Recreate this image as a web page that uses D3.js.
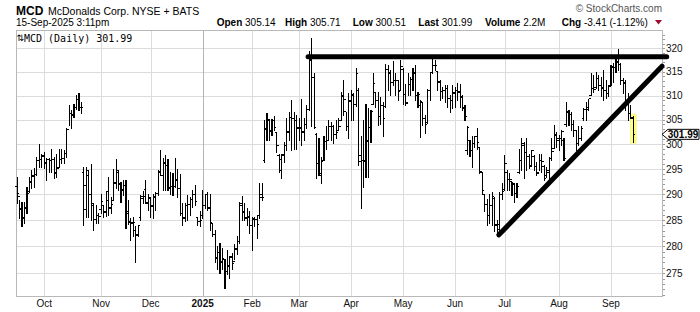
<!DOCTYPE html>
<html>
<head>
<meta charset="utf-8">
<script src="https://cdn.jsdelivr.net/npm/d3@7"></script>
<style>
  body { margin: 0; background: #fff; }
  svg { display: block; }
</style>
</head>
<body>
<div id="chart"></div>
<script>
// daily bars, 16-Sep-2024 .. 15-Sep-2025 (one row = 10 sessions)
const opens = [
  291.5, 289.5, 287.0, 285.5, 287.5, 290.5, 292.5, 293.5, 294.0, 296.8,
  297.0, 297.6, 296.3, 297.0, 296.8, 297.0, 294.3, 295.3, 297.0, 297.2,
  298.2, 303.0, 306.3, 306.0, 307.5, 309.2, 307.6, 294.4, 287.0, 293.8,
  289.9, 287.9, 285.1, 286.0, 287.0, 287.9, 286.6, 288.9, 287.4, 288.9,
  292.3, 294.4, 291.9, 290.9, 291.7, 286.6, 284.7, 284.3, 283.0, 282.3,
  285.5, 289.2, 290.9, 288.3, 289.2, 287.8, 289.4, 290.2, 294.4, 293.8,
  296.2, 295.8, 291.3, 291.6, 291.6, 292.9, 291.2, 286.2, 285.5, 287.9,
  288.1, 289.0, 289.9, 285.5, 284.7, 286.0, 287.8, 289.9, 287.4, 284.3,
  282.3, 277.9, 278.9, 277.2, 277.6, 275.3, 276.4, 277.9, 277.2, 279.4,
  280.9, 287.9, 286.6, 285.5, 285.7, 283.9, 285.3, 285.1, 286.0, 289.9,
  296.8, 302.9, 304.9, 302.7, 304.9, 302.3, 297.8, 294.8, 297.8, 299.8,
  302.5, 305.5, 305.3, 304.9, 303.3, 303.3, 302.5, 304.1, 307.0, 317.5,
  313.7, 301.9, 296.2, 293.8, 296.8, 300.6, 300.8, 303.5, 303.5, 302.0,
  302.8, 304.9, 309.8, 306.6, 303.5, 308.8, 310.1, 308.2, 311.1, 297.8,
  296.8, 296.8, 300.8, 303.3, 308.2, 310.6, 309.0, 305.7, 308.0, 307.8,
  315.4, 314.7, 312.8, 313.2, 313.2, 311.1, 315.5, 310.3, 308.6, 312.4,
  313.4, 314.7, 310.1, 308.0, 308.6, 305.3, 304.4, 311.1, 314.9, 316.4,
  315.0, 312.8, 310.9, 311.1, 311.5, 309.4, 309.0, 310.5, 311.1, 310.6,
  309.6, 307.4, 298.8, 300.8, 298.8, 300.2, 301.5, 299.4, 294.4, 289.9,
  288.1, 286.0, 287.9, 289.2, 283.9, 283.2, 289.9, 290.9, 294.4, 292.9,
  292.5, 291.9, 290.2, 294.4, 296.8, 299.8, 298.4, 297.6, 295.8, 297.6,
  295.6, 294.4, 296.8, 295.6, 293.7, 294.4, 297.2, 299.2, 301.9, 300.8,
  301.2, 300.8, 303.9, 306.6, 306.1, 303.9, 302.8, 300.2, 301.2, 305.3,
  307.0, 307.4, 310.1, 311.5, 311.6, 313.6, 312.2, 311.6, 311.1, 310.5,
  312.2, 316.0, 316.0, 317.1, 316.6, 313.2, 312.6, 309.0, 306.3, 305.14
];
const highs = [
  293.5, 288.9, 288.6, 288.6, 291.5, 293.5, 294.8, 295.2, 297.5, 300.0,
  298.1, 298.5, 297.2, 297.2, 299.0, 297.5, 298.1, 299.0, 299.0, 298.8,
  303.2, 308.1, 307.0, 308.3, 310.1, 310.6, 308.7, 295.5, 295.5, 294.8,
  296.0, 288.3, 287.9, 286.4, 290.1, 287.8, 290.7, 293.5, 289.5, 295.0,
  297.0, 294.8, 292.5, 292.9, 292.9, 288.9, 285.4, 285.7, 283.8, 284.1,
  289.9, 290.7, 292.9, 290.1, 289.5, 290.1, 290.5, 294.8, 298.8, 297.2,
  297.8, 297.0, 294.5, 294.2, 297.3, 295.0, 294.0, 288.3, 288.3, 289.9,
  289.5, 290.9, 291.9, 285.7, 286.7, 290.9, 290.1, 290.5, 290.1, 284.5,
  283.2, 280.0, 280.6, 279.7, 277.6, 279.4, 278.2, 278.8, 280.4, 282.0,
  288.6, 289.7, 288.3, 287.3, 286.7, 285.7, 285.7, 286.0, 292.2, 292.2,
  304.9, 306.3, 305.1, 305.1, 305.7, 302.2, 298.1, 298.1, 300.5, 305.3,
  306.6, 309.1, 306.6, 305.9, 305.3, 309.3, 305.3, 308.0, 319.5, 322.2,
  314.7, 302.2, 301.2, 297.5, 301.7, 303.6, 304.9, 304.6, 303.9, 304.9,
  305.3, 310.8, 313.2, 306.6, 310.5, 311.1, 310.5, 315.8, 311.5, 301.7,
  304.9, 308.2, 307.4, 307.0, 314.7, 310.8, 310.8, 309.7, 308.7, 316.6,
  316.4, 315.4, 317.3, 314.7, 313.2, 317.5, 315.7, 312.5, 314.7, 313.9,
  315.7, 316.4, 310.8, 309.0, 308.7, 305.9, 311.3, 315.0, 318.4, 317.5,
  315.0, 313.2, 311.8, 312.2, 312.2, 310.1, 312.2, 311.8, 312.7, 312.5,
  310.1, 308.0, 303.7, 300.8, 301.7, 301.7, 303.2, 299.5, 294.5, 290.1,
  289.2, 290.1, 290.5, 289.5, 285.1, 290.5, 292.2, 297.8, 294.8, 294.2,
  292.5, 292.2, 292.2, 299.1, 301.2, 300.5, 301.2, 298.1, 298.8, 297.8,
  296.5, 298.1, 298.1, 295.8, 295.5, 297.5, 301.2, 303.9, 302.5, 301.8,
  302.8, 301.2, 308.7, 307.0, 306.6, 304.9, 302.8, 303.6, 303.6, 307.3,
  308.7, 309.3, 314.7, 314.3, 315.0, 314.3, 313.9, 315.4, 313.2, 312.2,
  316.4, 316.8, 318.6, 319.8, 316.8, 313.7, 313.2, 310.5, 308.0, 305.71
];
const lows = [
  288.3, 285.4, 283.8, 284.5, 286.4, 290.5, 291.2, 291.5, 293.9, 295.5,
  295.5, 295.3, 292.9, 294.5, 294.5, 293.2, 293.5, 295.5, 296.2, 296.2,
  297.5, 303.9, 303.2, 305.5, 307.1, 307.0, 306.3, 284.1, 285.7, 285.7,
  285.1, 283.2, 284.5, 284.5, 286.4, 285.7, 285.9, 286.0, 286.4, 288.9,
  291.2, 290.9, 288.6, 289.9, 283.5, 284.3, 281.3, 282.0, 277.1, 282.0,
  285.1, 288.3, 288.3, 287.0, 285.7, 285.4, 287.0, 289.9, 293.8, 290.9,
  290.9, 290.9, 290.1, 289.9, 291.5, 289.5, 286.0, 284.0, 284.8, 285.1,
  286.0, 287.6, 287.9, 284.1, 283.8, 285.4, 287.4, 287.0, 283.2, 282.0,
  277.0, 275.7, 275.1, 275.7, 272.2, 274.8, 274.1, 275.8, 277.6, 278.5,
  280.7, 285.1, 285.1, 284.1, 282.5, 279.4, 283.8, 281.6, 285.4, 288.9,
  296.5, 300.8, 300.8, 301.8, 302.9, 298.5, 294.5, 293.2, 296.5, 298.8,
  300.8, 298.8, 299.1, 299.1, 300.8, 299.8, 300.8, 303.3, 307.0, 303.6,
  303.3, 293.2, 293.9, 292.3, 296.8, 299.1, 300.8, 300.8, 300.2, 301.2,
  302.8, 304.9, 305.9, 302.8, 301.2, 304.9, 304.9, 307.8, 295.8, 287.3,
  291.5, 293.5, 293.5, 300.5, 308.3, 307.6, 303.9, 304.2, 301.7, 307.6,
  311.1, 310.1, 312.2, 310.1, 309.0, 311.1, 308.2, 308.0, 310.1, 310.1,
  311.1, 309.0, 307.6, 301.5, 303.9, 302.2, 304.3, 309.0, 314.7, 315.4,
  311.1, 309.0, 309.4, 308.7, 307.6, 306.6, 307.3, 307.6, 309.0, 307.6,
  307.0, 304.9, 298.0, 297.6, 295.5, 299.5, 299.1, 294.3, 290.1, 286.7,
  284.1, 284.5, 284.0, 282.9, 282.2, 282.2, 289.2, 290.9, 290.9, 290.9,
  289.9, 288.6, 289.5, 294.2, 294.8, 293.2, 294.8, 295.2, 295.6, 294.8,
  293.8, 294.8, 294.4, 292.9, 293.5, 292.9, 296.8, 299.2, 299.5, 298.8,
  299.8, 296.8, 303.6, 303.9, 302.8, 301.7, 298.8, 299.8, 300.8, 304.9,
  304.9, 307.0, 310.1, 310.7, 311.6, 311.1, 309.8, 309.0, 309.4, 309.8,
  312.2, 312.8, 315.0, 315.4, 312.5, 310.5, 307.0, 304.9, 305.3, 300.51
];
const closes = [
  290.2, 287.2, 285.4, 287.3, 290.2, 292.4, 293.7, 293.9, 296.8, 297.0,
  297.8, 296.2, 297.0, 296.8, 297.0, 294.2, 295.2, 297.0, 297.2, 298.1,
  302.9, 306.3, 305.9, 307.5, 309.2, 307.6, 307.5, 291.7, 294.8, 290.0,
  288.3, 285.1, 286.0, 285.7, 288.6, 286.4, 290.5, 287.3, 288.1, 292.2,
  294.8, 292.1, 290.7, 291.7, 286.2, 284.6, 284.5, 284.5, 282.1, 283.9,
  289.5, 289.6, 288.4, 289.4, 287.6, 289.6, 290.1, 294.6, 293.8, 296.3,
  295.8, 291.2, 291.6, 291.6, 292.7, 291.2, 286.2, 285.4, 287.9, 288.1,
  289.0, 289.9, 288.7, 284.8, 284.9, 287.8, 289.9, 287.3, 284.6, 282.2,
  277.7, 278.9, 277.0, 277.7, 275.3, 276.3, 278.1, 276.8, 279.7, 280.9,
  288.3, 286.5, 285.4, 285.6, 283.9, 285.2, 285.1, 284.1, 289.4, 289.4,
  303.2, 305.1, 302.5, 304.9, 303.4, 299.8, 297.0, 297.9, 299.7, 302.4,
  305.5, 305.3, 304.9, 303.2, 303.2, 302.3, 304.1, 307.0, 317.6, 313.8,
  303.4, 296.2, 294.2, 296.6, 300.6, 300.8, 303.6, 303.6, 302.0, 302.4,
  303.6, 310.1, 309.1, 303.6, 308.9, 310.3, 308.2, 314.7, 296.6, 296.7,
  296.6, 300.6, 303.4, 306.6, 312.5, 309.0, 305.7, 308.0, 305.3, 315.5,
  314.8, 312.8, 313.2, 313.2, 310.9, 316.2, 310.3, 308.4, 312.4, 313.4,
  314.8, 310.1, 310.2, 308.7, 305.3, 304.1, 311.1, 314.8, 316.4, 316.4,
  312.9, 310.9, 311.1, 311.5, 309.4, 309.0, 310.6, 311.1, 310.8, 309.7,
  307.3, 305.6, 303.4, 298.7, 300.1, 301.5, 300.3, 294.5, 290.7, 288.1,
  286.0, 287.9, 289.6, 284.1, 284.1, 289.9, 290.5, 296.2, 292.9, 292.9,
  292.1, 290.1, 291.5, 296.8, 300.1, 298.3, 297.6, 295.5, 298.7, 295.5,
  294.2, 296.8, 296.5, 293.2, 294.8, 297.2, 298.5, 301.8, 301.2, 301.2,
  302.5, 297.2, 306.4, 306.1, 303.9, 302.8, 300.1, 301.2, 303.2, 307.1,
  307.1, 309.3, 311.5, 311.3, 313.5, 312.2, 311.5, 311.1, 310.4, 311.8,
  316.1, 315.9, 317.0, 317.9, 313.2, 312.8, 309.0, 306.3, 305.4, 301.99
];

// x axis: session index where each month starts
const monthLabels = ['Oct', 'Nov', 'Dec', '2025', 'Feb', 'Mar', 'Apr', 'May', 'Jun', 'Jul', 'Aug', 'Sep'];
const monthStarts = [11, 34, 54, 75, 95, 114, 135, 156, 177, 197, 219, 240];
const priceTicks = [275, 280, 285, 290, 295, 300, 305, 310, 315, 320];

// hand-drawn trend lines [session index, price]
const resistanceLine = [[117.6, 318.2], [262.5, 318.2]];
const supportLine = [[194.7, 282.2], [260.6, 316.2]];

// quote box
const quoteLabels = ['Open', 'High', 'Low', 'Last', 'Volume', 'Chg'];
const quoteValues = ['305.14', '305.71', '300.51', '301.99', '2.2M', '-3.41 (-1.12%)'];

const W = 700, H = 312;
const plot = { left: 16, right: 662, top: 30, bottom: 296 };
const sans = '"Liberation Sans", Arial, sans-serif';

const svg = d3.select('#chart').append('svg')
    .attr('width', W)
    .attr('height', H)
    .attr('font-family', sans);

const x = d3.scaleLinear().domain([-0.44, 260.6]).range([plot.left, plot.right]);
const y = d3.scaleLog().domain([270.8, 324]).range([plot.bottom, plot.top]);
const px = v => Math.round(v) + 0.5;

// grid
svg.append('g')
    .selectAll('line')
    .data(priceTicks)
    .join('line')
    .attr('x1', plot.left)
    .attr('x2', plot.right)
    .attr('y1', d => px(y(d)))
    .attr('y2', d => px(y(d)))
    .attr('stroke', '#dcdcdc');

svg.append('g')
    .selectAll('line')
    .data(monthStarts)
    .join('line')
    .attr('x1', d => px(x(d)))
    .attr('x2', d => px(x(d)))
    .attr('y1', plot.top)
    .attr('y2', plot.bottom)
    .attr('stroke', (d, i) => monthLabels[i] === '2025' ? '#b4b4b4' : '#dcdcdc');

// plot frame
svg.append('rect')
    .attr('x', plot.left + 0.5)
    .attr('y', plot.top + 0.5)
    .attr('width', plot.right - plot.left)
    .attr('height', plot.bottom - plot.top)
    .attr('fill', 'none')
    .attr('stroke', '#b8b8b8');

// month labels
svg.append('g')
    .selectAll('text')
    .data(monthStarts)
    .join('text')
    .attr('x', d => x(d))
    .attr('y', 307)
    .attr('text-anchor', 'middle')
    .attr('font-size', 10)
    .attr('font-weight', (d, i) => monthLabels[i] === '2025' ? 'bold' : 'normal')
    .attr('fill', '#111')
    .text((d, i) => monthLabels[i]);

// right axis
const axisG = svg.append('g');
axisG.selectAll('line.minor')
    .data(d3.range(271, 324))
    .join('line')
    .attr('class', 'minor')
    .attr('x1', plot.right + 1)
    .attr('x2', plot.right + 3)
    .attr('y1', d => px(y(d)))
    .attr('y2', d => px(y(d)))
    .attr('stroke', '#999');
axisG.selectAll('text')
    .data(priceTicks)
    .join('text')
    .attr('x', plot.right + 4)
    .attr('y', d => y(d) + 3.5)
    .attr('font-size', 10)
    .attr('fill', '#111')
    .text(d => d);

// highlight the latest bar
const last = closes.length - 1;
svg.append('rect')
    .attr('x', x(last) - 2.6)
    .attr('y', y(highs[last]) - 2)
    .attr('width', 5.4)
    .attr('height', y(lows[last]) - y(highs[last]) + 3.5)
    .attr('fill', '#ffff80')
    .attr('stroke', '#f4f060')
    .attr('stroke-width', 0.6);

// OHLC bars
const bars = d3.range(closes.length).map(i => ({
    i, o: opens[i], h: highs[i], l: lows[i], c: closes[i]
}));

const barG = svg.append('g')
    .attr('stroke', '#000')
    .attr('shape-rendering', 'crispEdges');

const bar = barG.selectAll('g')
    .data(bars)
    .join('g');

bar.append('line')
    .attr('x1', d => x(d.i))
    .attr('x2', d => x(d.i))
    .attr('y1', d => y(d.h))
    .attr('y2', d => y(d.l) + 1)
    .attr('stroke-width', 1.1);

bar.append('line')
    .attr('x1', d => x(d.i) - 2)
    .attr('x2', d => x(d.i))
    .attr('y1', d => y(d.o))
    .attr('y2', d => y(d.o));

bar.append('line')
    .attr('x1', d => x(d.i))
    .attr('x2', d => x(d.i) + 2)
    .attr('y1', d => y(d.c))
    .attr('y2', d => y(d.c));

// trend lines
const trend = d3.line()
    .x(d => x(d[0]))
    .y(d => y(d[1]));

svg.append('g')
    .selectAll('path')
    .data([resistanceLine, supportLine])
    .join('path')
    .attr('d', trend)
    .attr('fill', 'none')
    .attr('stroke', '#000')
    .attr('stroke-width', 5)
    .attr('stroke-linecap', 'round');

// last price tag
const ty = y(closes[last]);
svg.append('path')
    .attr('d', `M${plot.right},${ty} L${plot.right + 6},${ty - 5} L${699},${ty - 5} L${699},${ty + 5} L${plot.right + 6},${ty + 5} Z`)
    .attr('fill', '#fff')
    .attr('stroke', '#000')
    .attr('stroke-width', 1);
svg.append('text')
    .attr('x', 683)
    .attr('y', ty + 3.6)
    .attr('text-anchor', 'middle')
    .attr('font-size', 10)
    .attr('font-weight', 'bold')
    .text(closes[last].toFixed(2));

// header
svg.append('text')
    .attr('x', 16)
    .attr('y', 14.5)
    .attr('font-size', 12)
    .attr('font-weight', 'bold')
    .text('MCD');
svg.append('text')
    .attr('x', 48)
    .attr('y', 14.5)
    .attr('font-size', 10.5)
    .text('McDonalds Corp. NYSE + BATS');
svg.append('text')
    .attr('x', 662)
    .attr('y', 11.5)
    .attr('text-anchor', 'end')
    .attr('font-size', 10)
    .attr('fill', '#555')
    .text('\u00a9 StockCharts.com');
svg.append('text')
    .attr('x', 16)
    .attr('y', 26)
    .attr('font-size', 10)
    .text('15-Sep-2025 3:11pm');

const quoteX = [216.7, 285, 352.7, 418.3, 485, 561.7];
const quote = svg.append('text')
    .attr('y', 26)
    .attr('font-size', 10);
quoteLabels.forEach((lab, k) => {
    quote.append('tspan')
        .attr('x', quoteX[k])
        .attr('font-weight', 'bold')
        .text(lab);
    quote.append('tspan')
        .attr('font-weight', 'normal')
        .text(' ' + quoteValues[k]);
});
svg.append('path')
    .attr('d', 'M655,20 L662,20 L658.5,24.5 Z')
    .attr('fill', '#9c0f2c');

// legend inside the plot
svg.append('text')
    .attr('x', 16.5)
    .attr('y', 41)
    .attr('font-size', 9)
    .attr('font-family', '"DejaVu Sans", sans-serif')
    .text('\u21c5');
svg.append('text')
    .attr('x', 24)
    .attr('y', 41.5)
    .attr('font-size', 10)
    .attr('font-family', '"DejaVu Sans Mono", monospace')
    .text('MCD (Daily) ' + closes[last].toFixed(2));
</script>
</body>
</html>
